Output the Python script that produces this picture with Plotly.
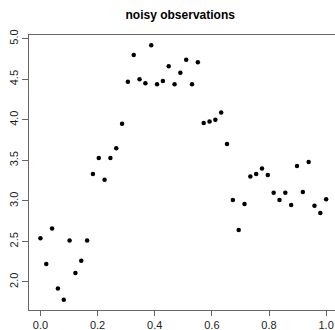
import numpy as np
import plotly.graph_objects as go

# x positions: 50 evenly spaced points between 0 and 1
n_points = 50
x_vals = [i / (n_points - 1) for i in range(n_points)]

y_vals = [
    2.54, 2.22, 2.66, 1.92, 1.78, 2.51, 2.11, 2.26, 2.51, 3.33,
    3.53, 3.26, 3.53, 3.65, 3.95, 4.47, 4.80, 4.50, 4.45, 4.92,
    4.44, 4.48, 4.66, 4.44, 4.58, 4.74, 4.44, 4.71, 3.96, 3.98,
    4.00, 4.09, 3.70, 3.01, 2.64, 2.96, 3.30, 3.33, 3.40, 3.32,
    3.10, 3.01, 3.10, 2.95, 3.43, 3.11, 3.48, 2.94, 2.85, 3.02,
]

x_ticks = [0.0, 0.2, 0.4, 0.6, 0.8, 1.0]
y_ticks = [2.0, 2.5, 3.0, 3.5, 4.0, 4.5, 5.0]
title_text = "noisy observations"

font_family = "Liberation Sans, Arial, sans-serif"

fig = go.Figure()
fig.add_trace(go.Scatter(
    x=x_vals, y=y_vals, mode="markers",
    marker=dict(color="black", size=4.5, line=dict(width=0)),
    cliponaxis=False,
))

fig.update_layout(
    width=335, height=330,
    margin=dict(l=29, r=0, t=35, b=20),
    paper_bgcolor="white", plot_bgcolor="white",
    showlegend=False,
    font=dict(family=font_family, size=11, color="#222"),
    title=dict(text="<b>" + title_text + "</b>", x=0.538, xanchor="center",
               y=1 - 15 / 330, yanchor="middle",
               font=dict(family=font_family, size=12, color="black")),
    xaxis=dict(range=[-0.04, 1.031], tickvals=x_ticks, tickformat=".1f",
               showgrid=False, zeroline=False, showline=True, mirror=True,
               linecolor="#666", linewidth=1, ticks="outside", ticklen=5,
               tickcolor="#666", tickfont=dict(size=11, color="#222")),
    yaxis=dict(range=[1.654, 5.046], tickvals=y_ticks, tickformat=".1f",
               showgrid=False, zeroline=False, showline=True, mirror=False,
               linecolor="#666", linewidth=1, ticks="outside", ticklen=6,
               tickcolor="#666", tickangle=-90,
               tickfont=dict(size=11, color="#222")),
)

fig.write_html("out.html")
